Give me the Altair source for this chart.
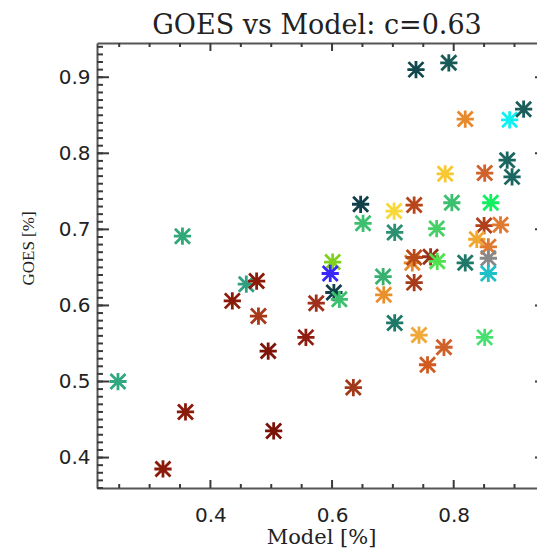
import altair as alt
import pandas as pd

# Data (Model [%] vs GOES [%])
model = [0.738, 0.792, 0.819, 0.892, 0.915, 0.888, 0.896, 0.786, 0.851, 0.647,
         0.702, 0.735, 0.797, 0.861, 0.651, 0.703, 0.772, 0.850, 0.877, 0.838,
         0.857, 0.857, 0.857, 0.819, 0.732, 0.735, 0.762, 0.773, 0.601, 0.597,
         0.603, 0.612, 0.574, 0.684, 0.685, 0.735, 0.703, 0.743, 0.784, 0.757,
         0.851, 0.635, 0.557, 0.354, 0.459, 0.476, 0.436, 0.479, 0.495, 0.248,
         0.359, 0.504, 0.322]
goes = [0.910, 0.919, 0.845, 0.844, 0.858, 0.791, 0.769, 0.773, 0.774, 0.733,
        0.724, 0.732, 0.735, 0.735, 0.708, 0.696, 0.701, 0.705, 0.706, 0.687,
        0.677, 0.662, 0.642, 0.656, 0.656, 0.663, 0.664, 0.658, 0.657, 0.642,
        0.617, 0.608, 0.603, 0.638, 0.614, 0.630, 0.577, 0.561, 0.545, 0.522,
        0.558, 0.492, 0.558, 0.691, 0.628, 0.632, 0.606, 0.586, 0.540, 0.500,
        0.460, 0.435, 0.385]
colors = ["#10484e", "#175a58", "#e8892c", "#10f0f0", "#1a5e5c", "#1a6660", "#1a6660", "#f8c830", "#d0622a", "#12404a",
          "#f8d838", "#b8441a", "#3cc070", "#10f060", "#3cc070", "#2a9070", "#48d068", "#b0401a", "#e07a30", "#f0a830",
          "#e07830", "#888888", "#20c0c8", "#207868", "#e88a2a", "#b84a1a", "#9a3018", "#50e050", "#80d020", "#3a28f8",
          "#12404a", "#3cc070", "#a0301a", "#38b070", "#e8902c", "#a83a1a", "#1e7a68", "#f0a838", "#d0602a", "#d05a20",
          "#48e070", "#a03a1a", "#901e10", "#30a878", "#30a080", "#8a1a0a", "#8a1a0a", "#a8381a", "#7e1408", "#30a880",
          "#8a1a0a", "#7a1208", "#8a1a0a"]

# tick positions / labels
x_major = [0.4, 0.6, 0.8]
x_minor = [0.25, 0.30, 0.35, 0.45, 0.50, 0.55, 0.65, 0.70, 0.75, 0.85, 0.90]
y_major = [0.4, 0.5, 0.6, 0.7, 0.8, 0.9]
y_minor = [round(0.36 + 0.01 * i, 2) for i in range(59)]

W, H = 440, 445
df = pd.DataFrame({"model": model, "goes": goes, "color": colors})

star = "M-1,-1L1,1M-1,1L1,-1M-1.15,0L1.15,0M0,-1.15L0,1.15"

xscale = alt.Scale(domain=[0.2135, 0.937], nice=False, zero=False)
yscale = alt.Scale(domain=[0.360, 0.945], nice=False, zero=False)

AX = "#555555"
TK = "#3a3a3a"

x_axis = alt.Axis(values=x_major, orient="bottom", ticks=False, tickSize=0, format=".1f",
                  domain=True, domainColor=AX, domainWidth=2, grid=False,
                  labelOverlap=False, labelFlush=False,
                  labelFont="DejaVu Sans", labelFontSize=20, labelColor="#222", labelPadding=17,
                  title="Model [%]", titleFont="DejaVu Serif", titleFontSize=21, titleFontWeight="normal",
                  titleColor="#222", titleX=224, titleY=55, titleAlign="center", titleBaseline="alphabetic")
y_axis = alt.Axis(values=y_major, orient="left", ticks=False, tickSize=0, format=".1f",
                  domain=True, domainColor=AX, domainWidth=2, grid=False,
                  labelOverlap=False, labelFlush=False,
                  labelFont="DejaVu Sans", labelFontSize=20, labelColor="#222", labelPadding=7,
                  title="GOES [%]", titleFont="Liberation Serif", titleFontSize=17, titleFontWeight="normal",
                  titleColor="#222", titleX=-64, titleY=205, titleAlign="center", titleBaseline="alphabetic",
                  titleAngle=270)

points = alt.Chart(df).mark_point(shape=star, filled=False, size=225, strokeWidth=2.8, opacity=1).encode(
    x=alt.X("model:Q", scale=xscale, axis=x_axis),
    y=alt.Y("goes:Q", scale=yscale, axis=y_axis),
    color=alt.Color("color:N", scale=None),
)

frame_top = alt.Chart(df).mark_point(opacity=0).encode(
    x=alt.X("model:Q", scale=xscale,
            axis=alt.Axis(orient="top", domain=True, domainColor=AX, domainWidth=2, ticks=False,
                          labels=False, grid=False, title=None)),
    y=alt.Y("goes:Q", scale=yscale, axis=None),
)


def xticks(vals, y0, y1):
    return alt.Chart(pd.DataFrame({"v": vals})).mark_rule(color=TK, strokeWidth=2).encode(
        x=alt.X("v:Q", scale=xscale, axis=None), y=alt.value(y0), y2=alt.value(y1))


def yticks(vals, x0, x1):
    return alt.Chart(pd.DataFrame({"v": vals})).mark_rule(color=TK, strokeWidth=2).encode(
        y=alt.Y("v:Q", scale=yscale, axis=None), x=alt.value(x0), x2=alt.value(x1))


ticks = [
    xticks(x_major, H, H - 8), xticks(x_minor, H, H - 4),
    xticks(x_major, 0, 8), xticks(x_minor, 0, 4),
    yticks(y_major, 0, 12), yticks(y_minor, 0, 6),
    yticks(y_major, W + 10, W - 2),
]

chart = alt.layer(frame_top, *ticks, points).resolve_axis(x="independent", y="independent").properties(
    width=W, height=H,
    padding={"left": 97, "top": 43, "right": 0, "bottom": 66},
    autosize=alt.AutoSizeParams(type="none"),
    title=alt.TitleParams("GOES vs Model: c=0.63", font="DejaVu Serif", fontSize=27, fontWeight="normal",
                          color="#222", anchor="middle", frame="group", baseline="alphabetic", offset=11, dy=30),
).configure_view(stroke=None).configure(background="white")

chart.save("out.html", embed_options={"renderer": "svg", "actions": False})
